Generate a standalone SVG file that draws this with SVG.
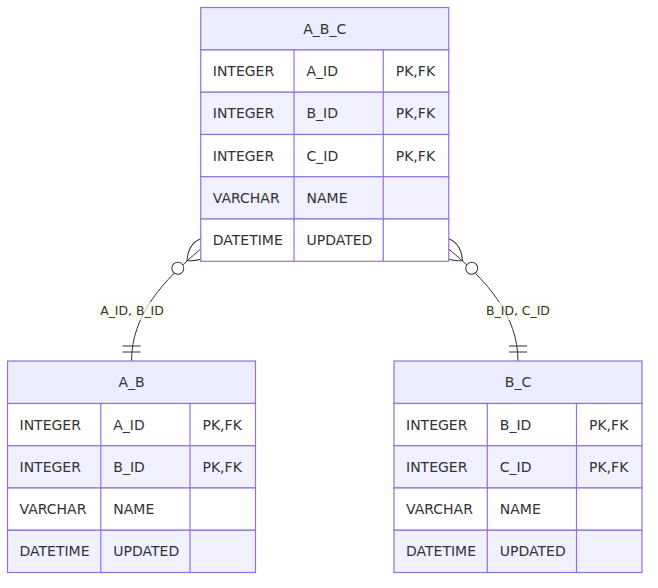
<svg xmlns="http://www.w3.org/2000/svg" width="658" height="588" viewBox="0 0 658 588">
<style>
text{font-family:"DejaVu Sans","Liberation Sans",sans-serif;font-size:14px;fill:#333}
.hd{fill:#ECECFF;stroke:#9370DB;stroke-width:1.2}
.ro{fill:#FFFFFF;stroke:#9370DB;stroke-width:1.2}
.re{fill:#F1F0FF;stroke:#9370DB;stroke-width:1.2}
.dv{stroke:#9370DB;stroke-width:1.2}
.c{text-anchor:middle}
.edge{fill:none;stroke:#333;stroke-width:1}
.lblbg{fill:#F9FFEC;opacity:0.7}
.lbl{font-size:12.4px;text-anchor:middle}
</style>
<defs>
<marker id="zeroOrMoreStart" markerUnits="userSpaceOnUse" refX="18" refY="18" markerWidth="57" markerHeight="36" orient="auto" overflow="visible">
<circle cx="48" cy="18" r="6" fill="#fff" stroke="#333"/>
<path d="M0,18 Q18,0 36,18 Q18,36 0,18" fill="none" stroke="#333"/>
</marker>
<marker id="onlyOneEnd" markerUnits="userSpaceOnUse" refX="18" refY="9" markerWidth="18" markerHeight="18" orient="auto" overflow="visible">
<path d="M3,0 L3,18 M9,0 L9,18" fill="none" stroke="#333"/>
</marker>
</defs>
<g id="connectors">
<path class="edge" d="M200.75,249 C162.75,281 131.5,315 131.5,361" marker-start="url(#zeroOrMoreStart)" marker-end="url(#onlyOneEnd)"/>
<path class="edge" d="M448.75,249 C486.75,281 518,315 518,361" marker-start="url(#zeroOrMoreStart)" marker-end="url(#onlyOneEnd)"/>
<g id="label-ab">
<rect class="lblbg" x="97" y="302" width="70" height="18"/>
<text class="lbl" x="132" y="315.3">A_ID, B_ID</text>
</g>
<g id="label-bc">
<rect class="lblbg" x="483" y="302" width="70" height="18"/>
<text class="lbl" x="518" y="315.3">B_ID, C_ID</text>
</g>
</g>
<g id="entity-A_B_C">
<rect class="hd" x="200.75" y="7.5" width="248" height="42.5"/>
<rect class="ro" x="200.75" y="50" width="248" height="42.25"/>
<rect class="re" x="200.75" y="92.25" width="248" height="42.25"/>
<rect class="ro" x="200.75" y="134.5" width="248" height="42.25"/>
<rect class="re" x="200.75" y="176.75" width="248" height="42.25"/>
<rect class="ro" x="200.75" y="219" width="248" height="42.25"/>
<line class="dv" x1="294.05" y1="50" x2="294.05" y2="261.25"/>
<line class="dv" x1="383.25" y1="50" x2="383.25" y2="261.25"/>
<text class="c" x="324.75" y="34">A_B_C</text>
<text x="212.75" y="76.1">INTEGER</text><text x="306.5" y="76.1">A_ID</text><text x="395.75" y="76.1">PK,FK</text>
<text x="212.75" y="118.4">INTEGER</text><text x="306.5" y="118.4">B_ID</text><text x="395.75" y="118.4">PK,FK</text>
<text x="212.75" y="160.6">INTEGER</text><text x="306.5" y="160.6">C_ID</text><text x="395.75" y="160.6">PK,FK</text>
<text x="212.75" y="202.9">VARCHAR</text><text x="306.5" y="202.9">NAME</text>
<text x="212.75" y="245.1">DATETIME</text><text x="306.5" y="245.1">UPDATED</text>
</g>
<g id="entity-A_B">
<rect class="hd" x="7.5" y="361" width="248" height="42.5"/>
<rect class="ro" x="7.5" y="403.5" width="248" height="42.25"/>
<rect class="re" x="7.5" y="445.75" width="248" height="42.25"/>
<rect class="ro" x="7.5" y="488" width="248" height="42.25"/>
<rect class="re" x="7.5" y="530.25" width="248" height="42.25"/>
<line class="dv" x1="100.8" y1="403.5" x2="100.8" y2="572.5"/>
<line class="dv" x1="190" y1="403.5" x2="190" y2="572.5"/>
<text class="c" x="131.5" y="387.3">A_B</text>
<text x="19.5" y="429.6">INTEGER</text><text x="113.3" y="429.6">A_ID</text><text x="202.5" y="429.6">PK,FK</text>
<text x="19.5" y="471.9">INTEGER</text><text x="113.3" y="471.9">B_ID</text><text x="202.5" y="471.9">PK,FK</text>
<text x="19.5" y="514.1">VARCHAR</text><text x="113.3" y="514.1">NAME</text>
<text x="19.5" y="556.4">DATETIME</text><text x="113.3" y="556.4">UPDATED</text>
</g>
<g id="entity-B_C">
<rect class="hd" x="394" y="361" width="248" height="42.5"/>
<rect class="ro" x="394" y="403.5" width="248" height="42.25"/>
<rect class="re" x="394" y="445.75" width="248" height="42.25"/>
<rect class="ro" x="394" y="488" width="248" height="42.25"/>
<rect class="re" x="394" y="530.25" width="248" height="42.25"/>
<line class="dv" x1="487.3" y1="403.5" x2="487.3" y2="572.5"/>
<line class="dv" x1="576.5" y1="403.5" x2="576.5" y2="572.5"/>
<text class="c" x="518" y="387.3">B_C</text>
<text x="406" y="429.6">INTEGER</text><text x="499.8" y="429.6">B_ID</text><text x="589" y="429.6">PK,FK</text>
<text x="406" y="471.9">INTEGER</text><text x="499.8" y="471.9">C_ID</text><text x="589" y="471.9">PK,FK</text>
<text x="406" y="514.1">VARCHAR</text><text x="499.8" y="514.1">NAME</text>
<text x="406" y="556.4">DATETIME</text><text x="499.8" y="556.4">UPDATED</text>
</g>
</svg>
